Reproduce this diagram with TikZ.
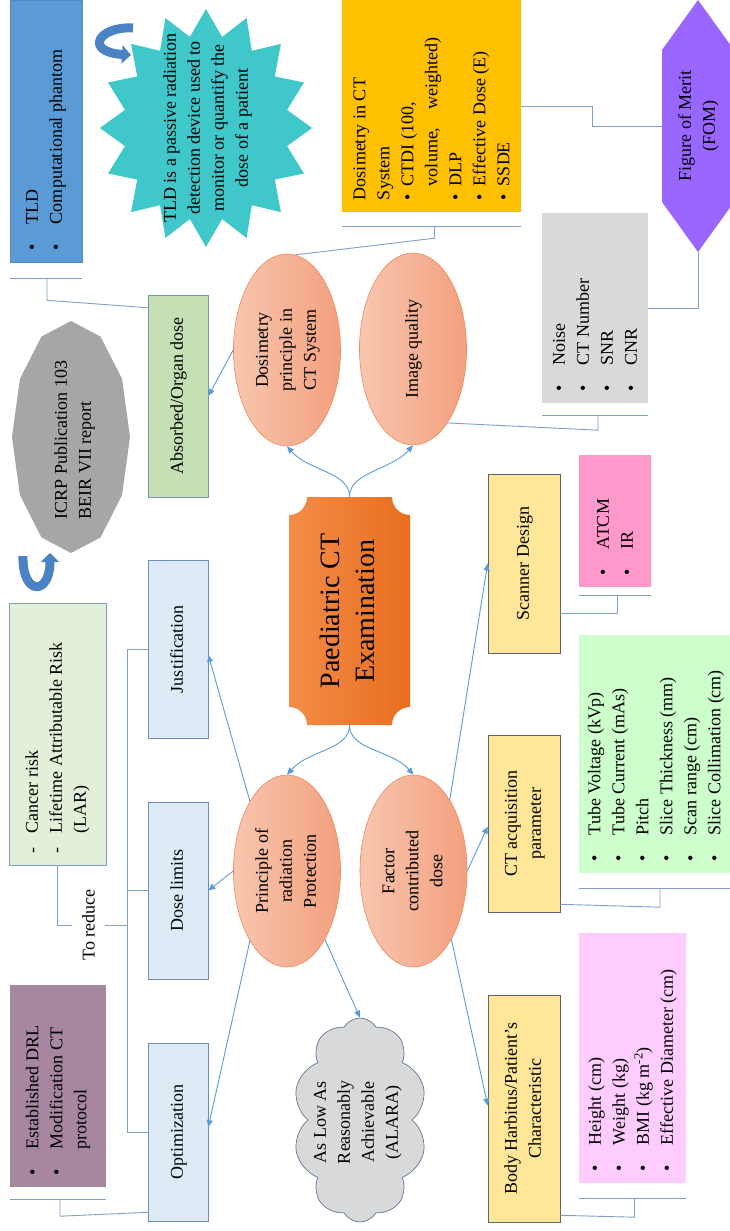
\documentclass[tikz,border=0pt]{standalone}
\usepackage{fontspec}
\setmainfont{Liberation Serif}
\usepackage{graphicx}
\usetikzlibrary{shapes.geometric,shapes.symbols,arrows.meta,calc}

\definecolor{tldc}{HTML}{5B9BD5}
\definecolor{tldB}{HTML}{4E8AC8}
\definecolor{starc}{HTML}{3FC7C9}
\definecolor{dctc}{HTML}{FFC000}
\definecolor{fomc}{HTML}{9966FF}
\definecolor{greyc}{HTML}{D9D9D9}
\definecolor{ellL}{HTML}{F8C6AF}
\definecolor{ellR}{HTML}{F3A07E}
\definecolor{ellB}{HTML}{EC8A5E}
\definecolor{icrpc}{HTML}{A6A6A6}
\definecolor{arrc}{HTML}{4A82C3}
\definecolor{pedL}{HTML}{F48C48}
\definecolor{pedR}{HTML}{E76E1E}
\definecolor{ylw}{HTML}{FFE699}
\definecolor{ybord}{HTML}{5A6474}
\definecolor{atcmc}{HTML}{FF99CC}
\definecolor{lblue}{HTML}{DEEBF7}
\definecolor{lbord}{HTML}{6F8DB5}
\definecolor{absc}{HTML}{C5E0B4}
\definecolor{absB}{HTML}{7D95AB}
\definecolor{riskc}{HTML}{E2F0D9}
\definecolor{riskB}{HTML}{7F9FBF}
\definecolor{ctpc}{HTML}{CCFFCC}
\definecolor{patc}{HTML}{FFCCFF}
\definecolor{drlc}{HTML}{A6879F}
\definecolor{cloudc}{HTML}{D9D9D9}
\definecolor{cloudB}{HTML}{5E7896}
\definecolor{lnk}{HTML}{5B9BD5}
\definecolor{brkc}{HTML}{7F9FC8}

\newcommand{\vlist}[2]{\rotatebox{90}{\parbox{#1}{\raggedright #2}}}
\newcommand{\vcen}[1]{\rotatebox{90}{\begin{tabular}{@{}c@{}}#1\end{tabular}}}
\newcommand{\vleft}[1]{\rotatebox{90}{\begin{tabular}{@{}l@{}}#1\end{tabular}}}
\newcommand{\bul}[1]{\makebox[26pt][l]{\textbullet}#1}
\newcommand{\bsm}[1]{\makebox[14pt][l]{\textbullet}#1}
\newcommand{\dsh}[1]{\makebox[20pt][l]{-}#1}

\begin{document}
\begin{tikzpicture}[x=1pt,y=-1pt,
  base/.style={inner sep=0pt, font=\fontsize{18}{24}\selectfont, text=black},
  conn/.style={draw=lnk, line width=0.9pt, -{Triangle[length=7pt,width=6pt]}},
  brk/.style={draw=brkc, line width=0.9pt},
  ell/.style={base, ellipse, draw=ellB, line width=0.6pt, left color=ellL, right color=ellR, minimum width=107pt, minimum height=192pt},
  ybox/.style={base, rectangle, draw=ybord, line width=0.6pt, fill=ylw, minimum width=72pt},
  lbox/.style={base, rectangle, draw=lbord, line width=0.6pt, fill=lblue, minimum width=60pt},
  deco/.style={line width=9pt, draw=arrc, -{Triangle[length=9pt,width=18pt]}}
]
\useasboundingbox (0,0) rectangle (730,1231);
\clip (0,0) rectangle (730,1231);

% star
\fill[starc] plot[samples at={0,11.25,...,360}] ({206+(0.89+0.11*cos(16*\x))*106*cos(\x+90)}, {128-(0.89+0.11*cos(16*\x))*119*sin(\x+90)}) -- cycle;
\node[base] (stext) at (207,128) {\vcen{TLD is a passive radiation\\detection device used to\\monitor or quantify the\\dose of a patient}};

% ICRP polygon
\fill[icrpc] plot[samples at={0,30,...,330}] ({71+59*cos(\x)},{437-116*sin(\x)}) -- cycle;
\node[base] (icrp) at (74,440) {\vleft{ICRP Publication 103\\BEIR VII report}};

% FOM hexagon
\fill[fomc] (698,0) -- (734,50) -- (734,202) -- (698,252) -- (662,202) -- (662,50) -- cycle;
\node[base, minimum width=72pt, minimum height=252pt] (fom) at (698,126) {\vcen{Figure of Merit\\(FOM)}};

% Paediatric box
\shade[left color=pedL, right color=pedR] (307,497) -- (392,497) .. controls (392,507) and (400,515) .. (410,515) -- (410,707) .. controls (400,707) and (392,715) .. (392,725) -- (307,725) .. controls (307,715) and (299,707) .. (289,707) -- (289,515) .. controls (299,515) and (307,507) .. (307,497) -- cycle;
\node[base, font=\fontsize{28}{35}\selectfont, minimum width=121pt, minimum height=228pt] (ped) at (349.5,611) {\vcen{Paediatric CT\\Examination}};

% decorative curved arrows
\draw[deco] (133,28) .. controls (98,26) and (84,52) .. (131,55);
\draw[deco] (23,556) .. controls (22,596) and (50,596) .. (50,553);

% list boxes
\node[base, fill=tldc, draw=tldB, line width=0.6pt, minimum width=72pt, minimum height=262pt] (tld) at (46,131) {\vlist{238pt}{\bul{TLD}\\\bul{Computational phantom}}};
\node[base, fill=dctc, minimum width=179pt, minimum height=212pt] (dct) at (431.5,106) {\vlist{188pt}{Dosimetry in CT\\System\\\bsm{CTDI (100,}\\\hspace*{14pt}volume,\quad weighted)\\\bsm{DLP}\\\bsm{Effective Dose (E)}\\\bsm{SSDE}}};
\node[base, fill=greyc, minimum width=106pt, minimum height=190pt] (iqlist) at (595,308) {\vlist{166pt}{\bul{Noise}\\\bul{CT Number}\\\bul{SNR}\\\bul{CNR}}};
\node[base, fill=atcmc, minimum width=72pt, minimum height=132pt] (atcm) at (615,521) {\vlist{108pt}{\bul{ATCM}\\\bul{IR}}};
\node[base, fill=ctpc, minimum width=154pt, minimum height=238pt] (ctp) at (656,754) {\vlist{214pt}{\bul{Tube Voltage (kVp)}\\\bul{Tube Current (mAs)}\\\bul{Pitch}\\\bul{Slice Thickness (mm)}\\\bul{Scan range (cm)}\\\bul{Slice Collimation (cm)}}};
\node[base, fill=patc, minimum width=107pt, minimum height=250pt] (pat) at (632.5,1058) {\vlist{226pt}{\bul{Height (cm)}\\\bul{Weight (kg)}\\\bul{BMI (kg m\textsuperscript{-2})}\\\bul{Effective Diameter (cm)}}};
\node[base, fill=riskc, draw=riskB, line width=0.6pt, minimum width=97pt, minimum height=262pt] (risk) at (57.5,734) {\vlist{238pt}{\dsh{Cancer risk}\\\dsh{Lifetime Attributable Risk}\\\hspace*{20pt}(LAR)}};
\node[base, fill=drlc, minimum width=96pt, minimum height=202pt] (drl) at (58,1086) {\vlist{178pt}{\bul{Established DRL}\\\bul{Modification CT}\\\hspace*{26pt}protocol}};
\node[base, inner xsep=10pt, inner ysep=2pt] (tored) at (88.5,925) {\rotatebox{90}{To reduce}};

% ellipses
\node[ell] (dos) at (287,350) {\vcen{Dosimetry\\principle in\\CT System}};
\node[ell] (iq) at (413,349) {\vcen{Image quality}};
\node[ell] (prin) at (287,871) {\vcen{Principle of\\radiation\\Protection}};
\node[ell] (fac) at (413.5,871) {\vcen{Factor\\contributed\\dose}};

% left column
\node[lbox, fill=absc, draw=absB, minimum height=202pt] (abs) at (178,396) {\vcen{Absorbed/Organ dose}};
\node[lbox, minimum height=178pt] (just) at (178,649) {\vcen{Justification}};
\node[lbox, minimum height=177pt] (dlim) at (178,890.5) {\vcen{Dose limits}};
\node[lbox, minimum height=178pt] (optim) at (178,1132) {\vcen{Optimization}};

% right column
\node[ybox, minimum height=179pt] (scan) at (524,563.5) {\vcen{Scanner Design}};
\node[ybox, minimum height=177pt] (ctacq) at (524,823.5) {\vcen{CT acquisition\\parameter}};
\node[ybox, minimum height=227pt] (body) at (524,1108.5) {\vcen{Body Harbitus/Patient’s\\Characteristic}};

% cloud
\node[base, cloud, cloud puffs=10, cloud puff arc=120, cloud ignores aspect, draw=cloudB, fill=cloudc, line width=0.7pt, minimum width=134pt, minimum height=204pt] (alara) at (360,1120) {};
\node[base] (alaratxt) at (357,1122) {\vcen{As Low As\\Reasonably\\Achievable\\(ALARA)}};

% connectors from centre
\draw[conn] (ped.north) .. controls +(0,-25) and +(22,25) .. (dos.south);
\draw[conn] (ped.north) .. controls +(0,-25) and +(-22,25) .. (iq.south);
\draw[conn] (ped.south) .. controls +(0,25) and +(22,-25) .. (prin.north);
\draw[conn] (ped.south) .. controls +(0,25) and +(-22,-25) .. (fac.north);

\draw[conn] (dos.west) -- (abs.east);
\draw[conn] (prin.118) -- ($(just.east)+(0,6)$);
\draw[conn] (prin.west) -- (dlim.east);
\draw[conn] (prin.242) -- ($(optim.east)+(0,-5)$);
\draw[conn] (prin.-61) -- (alara.north);
\draw[conn] (fac.63) -- (scan.west);
\draw[conn] (fac.east) -- ($(ctacq.west)+(0,3)$);
\draw[conn] (fac.-61) -- ($(body.west)+(0,-3)$);

% brackets and plain links
\draw[brk] ($(tld.south west)+(0,16)$) -- ($(tld.south east)+(0,16)$);
\draw[brk] ($(tld.south)+(1,16)$) -- ++(0,22) -- ($(abs.north west)+(0,13)$);
\draw[brk] ($(dct.south west)+(0,14)$) -- ($(dct.south east)+(0,14)$);
\draw[brk] ($(dct.south)+(3,14)$) -- ++(0,12) -- (dos.85);
\draw[brk] (dct.east) -- ++(71,0) |- (fom.west);
\draw[brk] (iqlist.east) -| (fom.south);
\draw[brk] ($(iqlist.south west)+(0,12)$) -- ($(iqlist.south east)+(0,12)$);
\draw[brk] ($(iqlist.south)+(3,12)$) -- ++(0,15) -- (iq.-65);
\draw[brk] ($(atcm.south west)+(0,8)$) -- ($(atcm.south east)+(0,8)$);
\draw[brk] ($(atcm.south)+(2,8)$) |- ($(scan.south east)+(0,-40)$);
\draw[brk] ($(ctp.south west)+(0,15)$) -- ($(ctp.south east)+(0,15)$);
\draw[brk] ($(ctp.south)+(4,15)$) -- ++(0,19) -- ($(ctacq.south east)+(0,-8)$);
\draw[brk] ($(pat.south west)+(0,15)$) -- ($(pat.south east)+(0,15)$);
\draw[brk] ($(pat.south)+(2,15)$) -- ++(0,19) -- ($(body.south east)+(0,-7)$);
\draw[brk] ($(drl.south west)+(0,12)$) -- ($(drl.south east)+(0,12)$);
\draw[brk] ($(drl.south)+(2,12)$) -- ++(0,17) -- ($(optim.south west)+(0,-9)$);

\coordinate (tk) at ($(just.west)+(-20,0)$);
\draw[brk] (just.west) -- (tk) |- (optim.west);
\draw[brk] (dlim.west) -- (dlim.west -| tk);
\draw[brk] (tored.east) -- (tored.east -| tk);
\draw[brk] (risk.south) |- (tored.west);
\end{tikzpicture}
\end{document}
